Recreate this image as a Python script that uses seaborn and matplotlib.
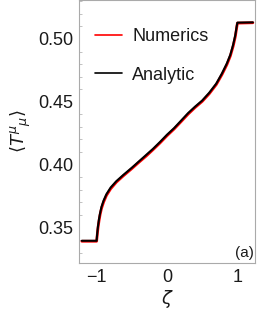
import numpy as np
import pandas as pd
import matplotlib
matplotlib.use("Agg")
import matplotlib.pyplot as plt
import seaborn as sns

# values
zeta = [-1.21, -1.0, -0.99, -0.98, -0.965, -0.95, -0.93, -0.90, -0.86, -0.80, -0.72,
        -0.62, -0.50, -0.40, -0.30, -0.20, -0.10, 0.0, 0.10, 0.20, 0.30, 0.40, 0.50,
        0.60, 0.70, 0.78, 0.85, 0.90, 0.94, 0.97, 0.99, 1.0, 1.22]
analytic = [0.3394, 0.3394, 0.3460, 0.3510, 0.3570, 0.3615, 0.3665, 0.3715, 0.3765,
            0.3818, 0.3868, 0.3918, 0.3975, 0.4025, 0.4075, 0.4125, 0.4180, 0.4238,
            0.4290, 0.4350, 0.4410, 0.4462, 0.4510, 0.4572, 0.4645, 0.4725, 0.4805,
            0.4875, 0.4955, 0.5030, 0.5100, 0.5130, 0.5132]
numerics = [0.3390, 0.3390, 0.3445, 0.3498, 0.3555, 0.3603, 0.3652, 0.3703, 0.3755,
            0.3808, 0.3860, 0.3911, 0.3968, 0.4018, 0.4066, 0.4118, 0.4172, 0.4230,
            0.4283, 0.4342, 0.4402, 0.4455, 0.4503, 0.4564, 0.4637, 0.4716, 0.4795,
            0.4865, 0.4943, 0.5018, 0.5090, 0.5126, 0.5129]
labels = ["Numerics", "Analytic"]

df = pd.concat([
    pd.DataFrame({"zeta": zeta, "T": numerics, "kind": labels[0]}),
    pd.DataFrame({"zeta": zeta, "T": analytic, "kind": labels[1]}),
])

sns.set_style("white")
plt.rcParams["font.family"] = ["Liberation Sans", "DejaVu Sans"]
plt.rcParams["mathtext.fontset"] = "dejavusans"

fig = plt.figure(figsize=(2.7, 3.15), dpi=100)
ax = fig.add_axes([79 / 270, 1 - 263 / 315, 176 / 270, 263 / 315])

sns.lineplot(data=df, x="zeta", y="T", hue="kind", palette=["#ff0000", "#000000"],
             ax=ax, estimator=None, sort=False, legend=True)
for line, lw in zip(ax.lines, [2.0, 1.5]):
    line.set_linewidth(lw)

ax.set_xlim(-1.25, 1.25)
ax.set_ylim(0.3217, 0.531)
ax.set_xticks([-1, 0, 1])
ax.set_xticklabels(["\u22121", "0", "1"])
ax.set_yticks([0.35, 0.40, 0.45, 0.50])
ax.set_yticklabels(["0.35", "0.40", "0.45", "0.50"])
ax.set_yticks(np.arange(0.33, 0.531, 0.01), minor=True)
ax.tick_params(axis="both", which="major", direction="in", length=4, width=0.6,
               color="#aaaaaa", labelsize=13, pad=4, labelcolor="#1a1a1a")
ax.tick_params(axis="y", which="minor", direction="in", length=2, width=0.5,
               color="#aaaaaa", left=True)
for s in ax.spines.values():
    s.set_color("#aaaaaa")
    s.set_linewidth(0.8)

ax.set_xlabel(r"$\zeta$", fontsize=13, labelpad=2, color="#1a1a1a")
ax.set_ylabel(r"$\langle T^{\mu}{}_{\mu}\rangle$", fontsize=13, labelpad=4,
              color="#1a1a1a")

leg = ax.legend(frameon=False, fontsize=13, loc="upper left",
                bbox_to_anchor=(0.0, 0.955), handlelength=1.5,
                labelspacing=1.2, handletextpad=0.55)
for h in leg.get_lines():
    h.set_linewidth(1.2)
for t in leg.get_texts():
    t.set_color("#1a1a1a")

ax.text(0.995, 0.01, "(a)", transform=ax.transAxes, ha="right", va="bottom",
        fontsize=11, color="#1a1a1a")

fig.savefig("out.png", dpi=100)
